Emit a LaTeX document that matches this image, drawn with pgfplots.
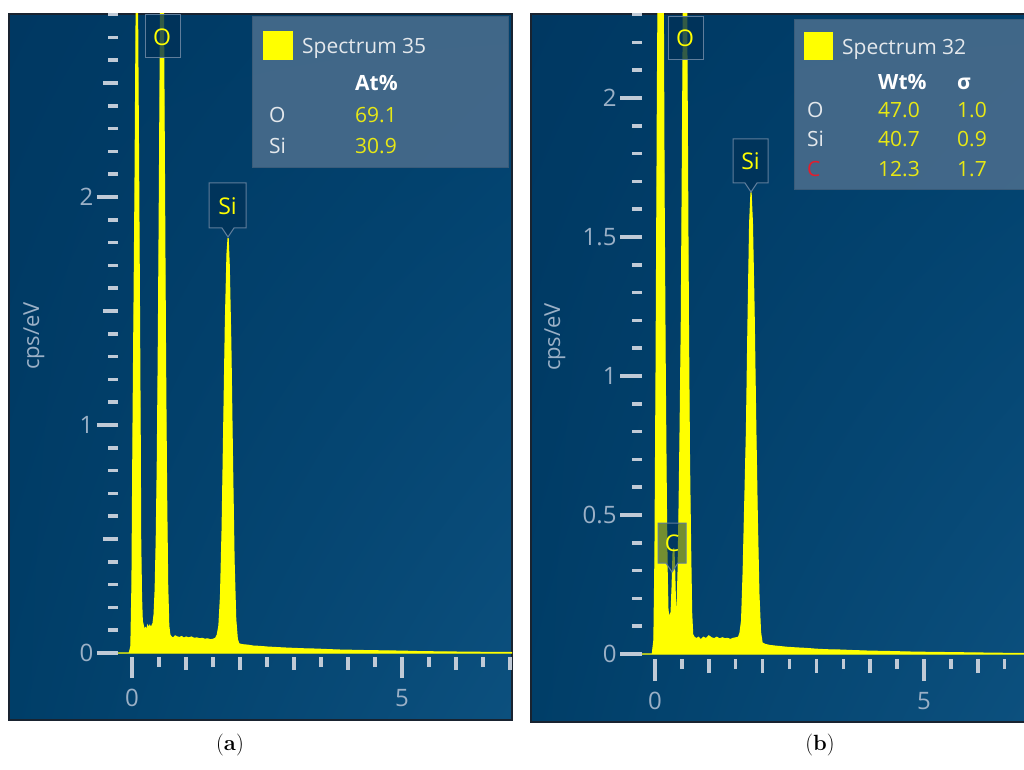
\documentclass[border=0pt]{standalone}
\usepackage{pgfplots}
\pgfplotsset{compat=1.18}
\usetikzlibrary{shadings}
\usepackage{fontspec}
\newfontfamily\osans{Open Sans}
\definecolor{bgTL}{RGB}{0,56,98}
\definecolor{bgTR}{RGB}{0,64,108}
\definecolor{bgBL}{RGB}{0,62,104}
\definecolor{bgBR}{RGB}{12,80,126}
\definecolor{frameedge}{RGB}{25,35,48}
\definecolor{tickc}{RGB}{192,202,214}
\definecolor{labc}{RGB}{155,176,198}
\definecolor{spec}{RGB}{255,255,0}
\definecolor{legfill}{RGB}{72,108,140}
\definecolor{legedge}{RGB}{58,92,122}
\definecolor{boxfill}{RGB}{0,50,88}
\definecolor{boxedge}{RGB}{95,125,155}
\definecolor{txtw}{RGB}{228,232,236}
\definecolor{valy}{RGB}{232,232,20}
\definecolor{elred}{RGB}{225,30,45}
\pgfplotsset{
  edsstyle/.style={
    scale only axis,
    axis x line*=bottom, axis y line*=left,
    axis line style={draw=none},
    tick align=outside,
    tick style={draw=tickc, line width=3.5pt},
    major tick length=20pt, minor tick length=9pt,
    ticklabel style={font=\fontsize{24}{28}\osans, text=labc},
    xticklabel style={yshift=-8pt},
    /pgf/number format/assume math mode=true,
    clip=true,
  }
}
\newcommand\fL{\fontsize{21}{25}\osans}
\newcommand\fB{\fontsize{23}{27}\osans}
\begin{document}
\begin{tikzpicture}[x=1pt,y=1pt]
\fill[white] (0,0) rectangle (1024,769);
\useasboundingbox (0,0) rectangle (1024,769);
% panel frames
\shade[upper left=bgTL, upper right=bgTR, lower left=bgBL, lower right=bgBR] (9,49) rectangle (512,755);
\draw[frameedge, line width=1.5pt] (9,49) rectangle (512,755);
\shade[upper left=bgTL, upper right=bgTR, lower left=bgBL, lower right=bgBR] (531,47) rectangle (1024,755);
\draw[frameedge, line width=1.5pt] (531,47) rectangle (1030,755);

% ---------- panel (a) ----------
\begin{axis}[edsstyle, at={(118pt,112pt)}, anchor=south west,
  width=394pt, height=643pt,
  xmin=-0.2593, xmax=7.037, ymin=-0.01754, ymax=2.8026,
  xtick={0,5}, minor xtick={0.5,1.5,2.5,3.5,4.5,5.5,6.5},
  extra x ticks={1,2,3,4,6,7}, extra x tick labels={},
  extra x tick style={major tick length=13pt},
  ytick={0,1,2}, minor ytick={0.1,0.2,...,2.75},
  extra y ticks={0.5,1.5,2.5}, extra y tick labels={},
  extra y tick style={major tick length=15pt},
  major tick length=21pt, minor tick length=10pt,
]
\addplot[draw=spec, fill=spec, line width=1.2pt] coordinates {
(-0.26,0) (-0.05,0) (-0.02,0.03) (0.00,0.3) (0.02,1.0) (0.055,2.0) (0.08,2.9) (0.09,3.6) (0.10,2.9) (0.125,2.0) (0.15,1.0) (0.16,0.5) (0.175,0.25) (0.19,0.14) (0.21,0.12) (0.23,0.10) (0.25,0.11) (0.27,0.10) (0.29,0.12) (0.31,0.11) (0.33,0.12) (0.35,0.11) (0.37,0.12) (0.39,0.13) (0.41,0.17) (0.43,0.28) (0.45,0.5) (0.47,0.85) (0.49,1.4) (0.51,2.1) (0.53,2.9) (0.555,3.5) (0.58,2.9) (0.60,2.1) (0.62,1.3) (0.64,0.7) (0.66,0.3) (0.68,0.12) (0.70,0.08) (0.73,0.07) (0.76,0.065) (0.80,0.075) (0.84,0.07) (0.88,0.068) (0.92,0.072) (0.96,0.065) (1.00,0.07) (1.05,0.066) (1.10,0.07) (1.15,0.064) (1.20,0.066) (1.25,0.062) (1.30,0.064) (1.35,0.06) (1.40,0.062) (1.45,0.058) (1.50,0.06) (1.55,0.065) (1.58,0.08) (1.61,0.12) (1.64,0.25) (1.67,0.55) (1.70,1.0) (1.73,1.45) (1.76,1.75) (1.78,1.82) (1.80,1.7) (1.83,1.35) (1.86,0.85) (1.89,0.4) (1.92,0.15) (1.95,0.06) (1.98,0.04) (2.05,0.036) (2.15,0.034) (2.25,0.03) (2.35,0.029) (2.5,0.026) (2.65,0.024) (2.8,0.022) (3.0,0.02) (3.2,0.018) (3.4,0.017) (3.6,0.015) (3.8,0.013) (4.0,0.012) (4.2,0.011) (4.4,0.01) (4.7,0.009) (5.0,0.008) (5.3,0.006) (5.6,0.005) (6.0,0.004) (6.4,0.003) (6.8,0.002) (7.04,0.002)
} \closedcycle;
\end{axis}

% ---------- panel (b) ----------
\begin{axis}[edsstyle, at={(642pt,110pt)}, anchor=south west,
  width=382pt, height=645pt,
  xmin=-0.2416, xmax=6.859, ymin=-0.018, ymax=2.302,
  xtick={0,5}, minor xtick={0.5,1.5,2.5,3.5,4.5,5.5,6.5},
  extra x ticks={1,2,3,4,6}, extra x tick labels={},
  extra x tick style={major tick length=14pt},
  ytick={0,0.5,1,1.5,2}, minor ytick={0.1,0.2,...,2.25},
  major tick length=22pt, minor tick length=10pt,
  yticklabels={0,0.5,1,1.5,2},
]
\addplot[draw=spec, fill=spec, line width=1.2pt] coordinates {
(-0.25,0) (-0.05,0) (-0.02,0.05) (0.00,0.35) (0.02,1.0) (0.045,2.0) (0.065,2.6) (0.09,3.4) (0.12,3.0) (0.15,2.5) (0.17,1.6) (0.19,1.0) (0.21,0.55) (0.225,0.3) (0.24,0.16) (0.26,0.13) (0.28,0.14) (0.30,0.15) (0.32,0.25) (0.335,0.36) (0.35,0.38) (0.365,0.3) (0.38,0.18) (0.395,0.15) (0.41,0.16) (0.43,0.3) (0.45,0.55) (0.47,0.85) (0.49,1.2) (0.51,1.8) (0.53,2.4) (0.56,3.2) (0.58,2.6) (0.60,1.9) (0.62,1.2) (0.64,0.7) (0.66,0.4) (0.68,0.15) (0.70,0.07) (0.73,0.06) (0.77,0.055) (0.81,0.06) (0.85,0.05) (0.90,0.06) (0.95,0.055) (1.00,0.065) (1.05,0.058) (1.10,0.055) (1.15,0.06) (1.20,0.054) (1.25,0.058) (1.30,0.055) (1.35,0.056) (1.40,0.052) (1.45,0.056) (1.50,0.058) (1.55,0.06) (1.58,0.075) (1.61,0.12) (1.64,0.3) (1.67,0.55) (1.70,0.8) (1.73,1.2) (1.76,1.55) (1.785,1.66) (1.81,1.55) (1.84,1.25) (1.87,0.85) (1.90,0.5) (1.93,0.22) (1.96,0.08) (1.99,0.04) (2.05,0.034) (2.15,0.03) (2.3,0.027) (2.45,0.024) (2.6,0.022) (2.8,0.02) (3.0,0.017) (3.2,0.015) (3.45,0.014) (3.7,0.012) (4.0,0.01) (4.3,0.009) (4.7,0.007) (5.0,0.006) (5.4,0.005) (5.8,0.004) (6.2,0.003) (6.6,0.002) (6.86,0.002)
} \closedcycle;
\end{axis}

% y-axis titles
\node[rotate=90, font=\fontsize{22}{26}\osans, text=labc] at (34,433) {cps/eV};
\node[rotate=90, font=\fontsize{22}{26}\osans, text=labc] at (555,432) {cps/eV};

% element markers (a)
\draw[boxedge, line width=1pt, fill=boxfill, fill opacity=0.8] (145,754) rectangle (180,711);
\node[font=\fB, text=spec] at (162,732) {O};
\draw[boxedge, line width=1pt, fill=boxfill, fill opacity=0.8] (209,586) -- (246,586) -- (246,541) -- (234,541) -- (228,532) -- (222,541) -- (209,541) -- cycle;
\node[font=\fB, text=spec] at (227.5,563) {Si};
% element markers (b)
\draw[boxedge, line width=1pt, fill=boxfill, fill opacity=0.8] (668,752) rectangle (703,709);
\node[font=\fB, text=spec] at (685,731) {O};
\draw[boxedge, line width=1pt, fill=boxfill, fill opacity=0.8] (733,630) -- (768,630) -- (768,586) -- (757,586) -- (751,577) -- (745,586) -- (733,586) -- cycle;
\node[font=\fB, text=spec] at (750.5,608) {Si};
\draw[boxedge, line width=1pt, fill=boxfill, fill opacity=0.55] (658,246) -- (686,246) -- (686,206) -- (678,206) -- (672,197) -- (666,206) -- (658,206) -- cycle;
\node[font=\fB, text=spec] at (672,226) {C};

% legend (a)
\draw[legedge, line width=1pt, fill=legfill, fill opacity=0.9] (252,752) rectangle (508,601);
\fill[spec] (263,738) rectangle (293,709);
\node[anchor=base west, inner sep=0pt, font=\fL, text=txtw] at (302,715) {Spectrum 35};
\node[anchor=base west, inner sep=0pt, font=\fL\bfseries, text=white] at (355,678) {At\%};
\node[anchor=base west, inner sep=0pt, font=\fL, text=txtw] at (269,646) {O};
\node[anchor=base west, inner sep=0pt, font=\fL, text=valy] at (355,646) {69.1};
\node[anchor=base west, inner sep=0pt, font=\fL, text=txtw] at (269,615) {Si};
\node[anchor=base west, inner sep=0pt, font=\fL, text=valy] at (355,615) {30.9};

% legend (b)
\draw[legedge, line width=1pt, fill=legfill, fill opacity=0.9] (794,749) rectangle (1030,579);
\fill[spec] (804,737) rectangle (833,709);
\node[anchor=base west, inner sep=0pt, font=\fL, text=txtw] at (842,714) {Spectrum 32};
\node[anchor=base west, inner sep=0pt, font=\fL\bfseries, text=white] at (878,679) {Wt\%};
\node[anchor=base west, inner sep=0pt, font=\fL\bfseries, text=white] at (957,679) {σ};
\node[anchor=base west, inner sep=0pt, font=\fL, text=txtw] at (807,651) {O};
\node[anchor=base west, inner sep=0pt, font=\fL, text=valy] at (878,651) {47.0};
\node[anchor=base west, inner sep=0pt, font=\fL, text=valy] at (957,651) {1.0};
\node[anchor=base west, inner sep=0pt, font=\fL, text=txtw] at (807,622) {Si};
\node[anchor=base west, inner sep=0pt, font=\fL, text=valy] at (878,622) {40.7};
\node[anchor=base west, inner sep=0pt, font=\fL, text=valy] at (957,622) {0.9};
\node[anchor=base west, inner sep=0pt, font=\fL, text=elred] at (807,592) {C};
\node[anchor=base west, inner sep=0pt, font=\fL, text=valy] at (878,592) {12.3};
\node[anchor=base west, inner sep=0pt, font=\fL, text=valy] at (957,592) {1.7};

% captions
\node[font=\fontsize{22}{26}\selectfont] at (230,24) {(\textbf{a})};
\node[font=\fontsize{22}{26}\selectfont] at (820,24) {(\textbf{b})};
\end{tikzpicture}
\end{document}
